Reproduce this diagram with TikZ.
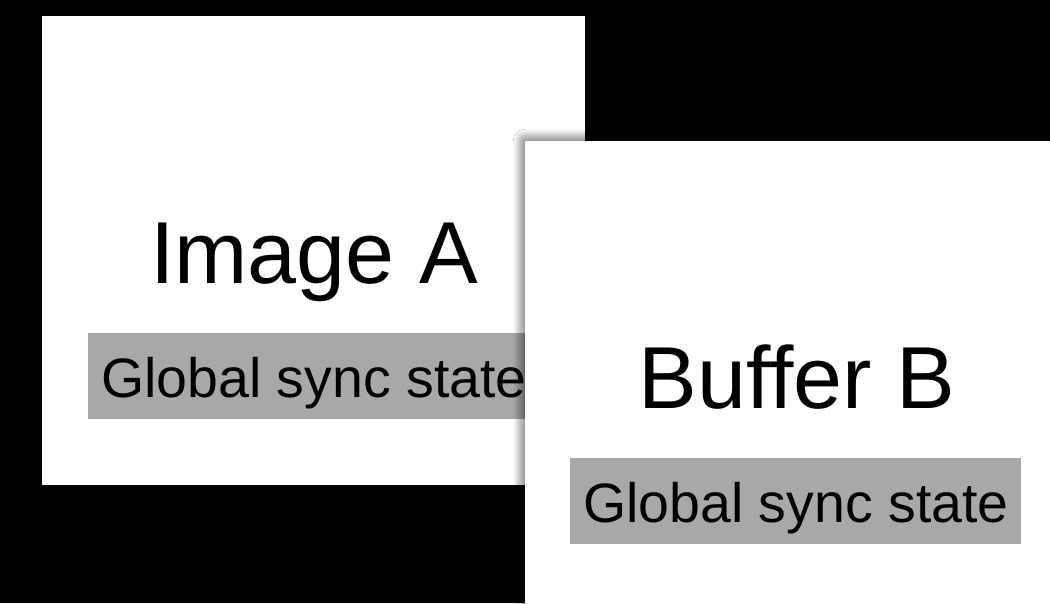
\documentclass[tikz,border=0pt]{standalone}
\usepackage{fontspec}
\setmainfont{Liberation Sans}
\usetikzlibrary{shadows.blur}
\definecolor{tagfill}{HTML}{A8A8A8}
\tikzset{
  panel/.style={fill=white, draw=none},
  tag/.style={fill=tagfill, draw=none, minimum width=451pt, minimum height=86pt, anchor=north west, inner sep=0pt},
  tagtext/.style={font=\fontsize{55.5}{62}\selectfont, anchor=base west, inner sep=0pt},
  title/.style={font=\fontsize{88}{100}\selectfont, anchor=base, inner sep=0pt},
}
\begin{document}
\begin{tikzpicture}[x=1pt,y=-1pt]
  % canvas
  \fill[black] (0,0) rectangle (1050,603);
  \useasboundingbox (0,0) rectangle (1050,603);
  % first panel
  \node[panel, minimum width=543pt, minimum height=469pt, anchor=north west, inner sep=0pt] (imgA) at (42,16) {};
  \node[tag] (tagA) at (88,333) {};
  \node[tagtext] (tagAtext) at (101,397) {Global sync state};
  \node[title] (titleA) at (314,283) {Image A};
  % second panel, overlapping, with a soft shadow
  \node[panel, minimum width=540pt, minimum height=480pt, anchor=north west, inner sep=0pt,
        blur shadow={shadow xshift=0pt, shadow yshift=0pt, shadow blur radius=12pt, shadow blur steps=12, shadow opacity=85}] (bufB) at (525,141) {};
  \node[tag] (tagB) at (570,458) {};
  \node[tagtext] (tagBtext) at (583,522) {Global sync state};
  \node[title] (titleB) at (797,408) {Buffer B};
\end{tikzpicture}
\end{document}
